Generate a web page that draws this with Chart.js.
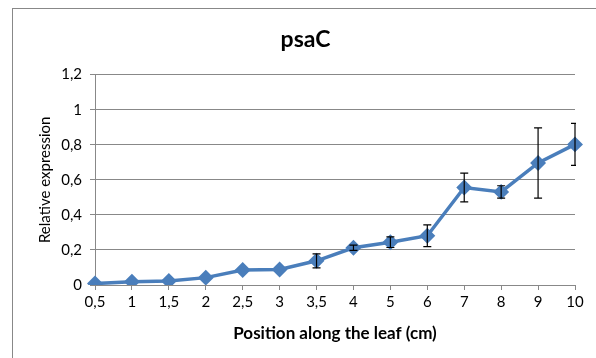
<!DOCTYPE html>
<html>
<head>
<meta charset="utf-8">
<script src="https://cdn.jsdelivr.net/npm/chart.js@4.4.1/dist/chart.umd.min.js"></script>
<style>
  body { margin: 0; background: #fff; }
  #frame { position: absolute; left: 12px; top: 8px; width: 584px; height: 350px;
           border-left: 1px solid #888; border-top: 1px solid #888; }
</style>
</head>
<body>
<div id="frame"><canvas id="myChart" width="583" height="349"></canvas></div>
<script>
var positions = ["0,5","1","1,5","2","2,5","3","3,5","4","5","6","7","8","9","10"];
var expression = [0.008,0.019,0.023,0.042,0.085,0.088,0.138,0.212,0.244,0.281,0.556,0.531,0.696,0.802];
var errors =     [0,    0,    0,    0,    0,    0,    0.04, 0.015,0.03, 0.062,0.082,0.035,0.2,  0.12];

var fontName = "Lato, 'Open Sans', sans-serif";

// error bars drawn from the scales
var errorBars = {
  id: "errorBars",
  afterDatasetsDraw: function(chart) {
    var ctx = chart.ctx, x = chart.scales.x, y = chart.scales.y, a = chart.chartArea;
    ctx.save();
    ctx.beginPath();
    ctx.rect(a.left - 10, a.top - 10, a.right - a.left + 11, a.bottom - a.top + 20);
    ctx.clip();
    ctx.strokeStyle = "#000";
    ctx.lineWidth = 1.2;
    for (var i = 0; i < expression.length; i++) {
      if (!errors[i]) continue;
      var px = x.getPixelForValue(i);
      var top = y.getPixelForValue(expression[i] + errors[i]);
      var bot = y.getPixelForValue(expression[i] - errors[i]);
      ctx.beginPath();
      ctx.moveTo(px, top); ctx.lineTo(px, bot);
      ctx.moveTo(px - 4, top); ctx.lineTo(px + 4, top);
      ctx.moveTo(px - 4, bot); ctx.lineTo(px + 4, bot);
      ctx.stroke();
    }
    ctx.restore();
  }
};

new Chart("myChart", {
  type: "line",
  data: {
    labels: positions,
    datasets: [{
      data: expression,
      borderColor: "#4A7EBB",
      backgroundColor: "#4A7EBB",
      borderWidth: 3.5,
      pointStyle: "rectRot",
      pointRadius: 5.5,
      pointHoverRadius: 5.5,
      fill: false,
      tension: 0
    }]
  },
  plugins: [errorBars],
  options: {
    responsive: false,
    animation: false,
    layout: { padding: { left: 23, right: 21, top: 0, bottom: 0 } },
    plugins: {
      legend: { display: false },
      tooltip: { enabled: false },
      title: {
        display: true,
        text: "psaC",
        color: "#000",
        font: { family: fontName, size: 23, weight: "bold" },
        padding: { top: 17, bottom: 21 }
      }
    },
    scales: {
      x: {
        offset: false,
        grid: { display: true, drawOnChartArea: false, color: "#888", tickLength: 5 },
        border: { color: "#888", width: 1 },
        ticks: { color: "#000", font: { family: fontName, size: 15 }, padding: 3, maxRotation: 0, autoSkip: false },
        title: { display: true, text: "Position along the leaf (cm)", color: "#000",
                 font: { family: fontName, size: 17, weight: "bold" }, padding: { top: 4, bottom: 14 } },
        afterFit: function(s) { s.height = 73; }
      },
      y: {
        min: 0, max: 1.2,
        grid: { color: "#888", tickLength: 5 },
        border: { color: "#888", width: 1 },
        ticks: {
          stepSize: 0.2, color: "#000", font: { family: fontName, size: 15 }, padding: 8,
          callback: function(v) { return (Math.round(v * 10) / 10).toString().replace(".", ","); }
        },
        title: { display: true, text: "Relative expression", color: "#000",
                 font: { family: fontName, size: 15 }, padding: { top: 0, bottom: 4 } },
        afterFit: function(s) { s.width = 59; }
      }
    }
  }
});
</script>
</body>
</html>
